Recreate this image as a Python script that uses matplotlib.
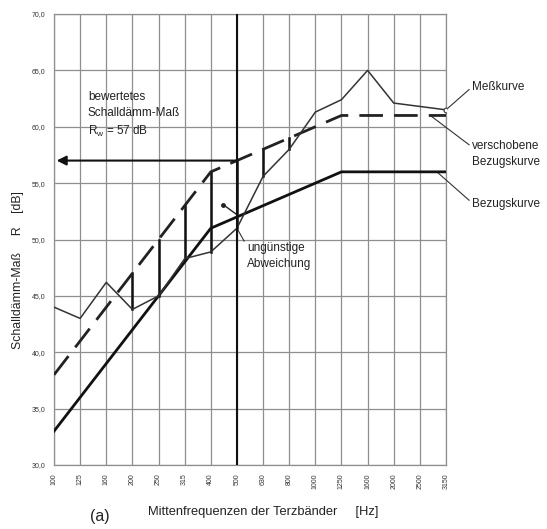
import matplotlib
matplotlib.use("Agg")
import matplotlib.pyplot as plt
import numpy as np

plt.rcParams['font.family'] = ['Liberation Sans', 'DejaVu Sans']

# Terzband-Mittenfrequenzen
freqs = ['100', '125', '160', '200', '250', '315', '400', '500',
         '630', '800', '1000', '1250', '1600', '2000', '2500', '3150']
# gemessenes Schalldämm-Maß R in dB
meas = [44.0, 43.0, 46.2, 43.8, 45.0, 48.3, 48.9, 51.0,
        55.6, 58.0, 61.3, 62.4, 65.0, 62.1, 61.8, 61.5]
# Bezugskurve nach DIN EN ISO 717-1
ref = [33, 36, 39, 42, 45, 48, 51, 52, 53, 54, 55, 56, 56, 56, 56, 56]
shift = 5          # Verschiebung der Bezugskurve in dB
rw = 57            # bewertetes Schalldämm-Maß
yticks = [30, 35, 40, 45, 50, 55, 60, 65, 70]

x = np.arange(len(freqs))
shifted = np.array(ref) + shift
i500 = freqs.index('500')

W, H = 547, 529
fig = plt.figure(figsize=(W / 100, H / 100), dpi=100)
ax = fig.add_axes([54 / W, 1 - 465 / H, (446 - 54) / W, (465 - 14) / H])

ax.set_xlim(0, len(freqs) - 1)
ax.set_ylim(30, 70)
ax.set_xticks(x)
ax.set_xticklabels(freqs, rotation=90, fontsize=5, color='#333333')
ax.set_yticks(yticks)
ax.set_yticklabels([f'{v:.1f}'.replace('.', ',') for v in yticks],
                   fontsize=5, color='#333333')
ax.tick_params(length=0, pad=6)
ax.grid(True, color='#8f8f8f', lw=0.9)
for s in ax.spines.values():
    s.set_color('#8f8f8f')
    s.set_linewidth(0.9)

# ungünstige Abweichungen (Meßkurve unter verschobener Bezugskurve)
for xi, m, r in zip(x, meas, shifted):
    if m < r:
        ax.plot([xi, xi], [m, r], color='#111111', lw=1.8, zorder=3)

ax.plot(x, ref, color='#111111', lw=2.0, zorder=4)
ax.plot(x, shifted, color='#222222', lw=2.0, dashes=(8.5, 4), zorder=4)
ax.plot(x, meas, color='#333333', lw=1.1, zorder=5,
        marker='o', markevery=[len(freqs) - 1], markersize=3.5,
        markerfacecolor='white', markeredgecolor='#333333', markeredgewidth=0.8)

# 500-Hz-Linie und Ablesepfeil für R_w
ax.axvline(i500, color='#111111', lw=1.5, zorder=6)
ax.annotate('', xy=(0.1, rw), xytext=(i500, rw),
            arrowprops=dict(arrowstyle='-|>', color='#111111', lw=1.5,
                            mutation_scale=14, shrinkA=0, shrinkB=0),
            zorder=6)

tkw = dict(fontsize=8.5, color='#222222')
ax.text(1.3, 58.9, 'bewertetes\nSchalldämm-Maß\n$\\mathregular{R_w}$ = 57 dB',
        ha='left', va='bottom', linespacing=1.45, **tkw)

lead = dict(arrowstyle='-', color='#333333', lw=0.8, shrinkA=0, shrinkB=0)
ax.annotate('Meßkurve', xy=(15, meas[-1]), xytext=(472, H - 87),
            textcoords='figure pixels', va='center', ha='left',
            arrowprops=dict(relpos=(0, 0.5), **lead), annotation_clip=False, **tkw)
ax.annotate('verschobene\nBezugskurve', xy=(14.4, shifted[-1]), xytext=(472, H - 154),
            textcoords='figure pixels', va='center', ha='left', linespacing=1.45,
            arrowprops=dict(relpos=(0, 0.75), **lead), annotation_clip=False, **tkw)
ax.annotate('Bezugskurve', xy=(14.65, ref[-1]), xytext=(472, H - 204),
            textcoords='figure pixels', va='center', ha='left',
            arrowprops=dict(relpos=(0, 0.6), **lead), annotation_clip=False, **tkw)
ax.annotate('ungünstige\nAbweichung', xy=(i500, meas[i500]), xytext=(247, H - 256),
            textcoords='figure pixels', va='center', ha='left', linespacing=1.45,
            arrowprops=dict(relpos=(0, 0.85), **lead), **tkw)
ax.annotate('', xy=(i500, 52.2), xytext=(6.47, 53.1),
            arrowprops=dict(arrowstyle='-', color='#222222', lw=1.0, shrinkA=0, shrinkB=0))
ax.plot([6.47], [53.1], 'o', color='#222222', markersize=2.5, zorder=6)

fig.text(18 / W, 1 - 270 / H, 'Schalldämm-Maß     R    [dB]', rotation=90,
         ha='center', va='center', fontsize=8.8, color='#222222')
fig.text(263 / W, 1 - 512 / H, 'Mittenfrequenzen der Terzbänder     [Hz]',
         ha='center', va='center', fontsize=9.3, color='#222222')
fig.text(100 / W, 1 - 517 / H, '(a)', ha='center', va='center',
         fontsize=11.5, color='#222222')

fig.savefig('out.png', dpi=100, facecolor='white')
